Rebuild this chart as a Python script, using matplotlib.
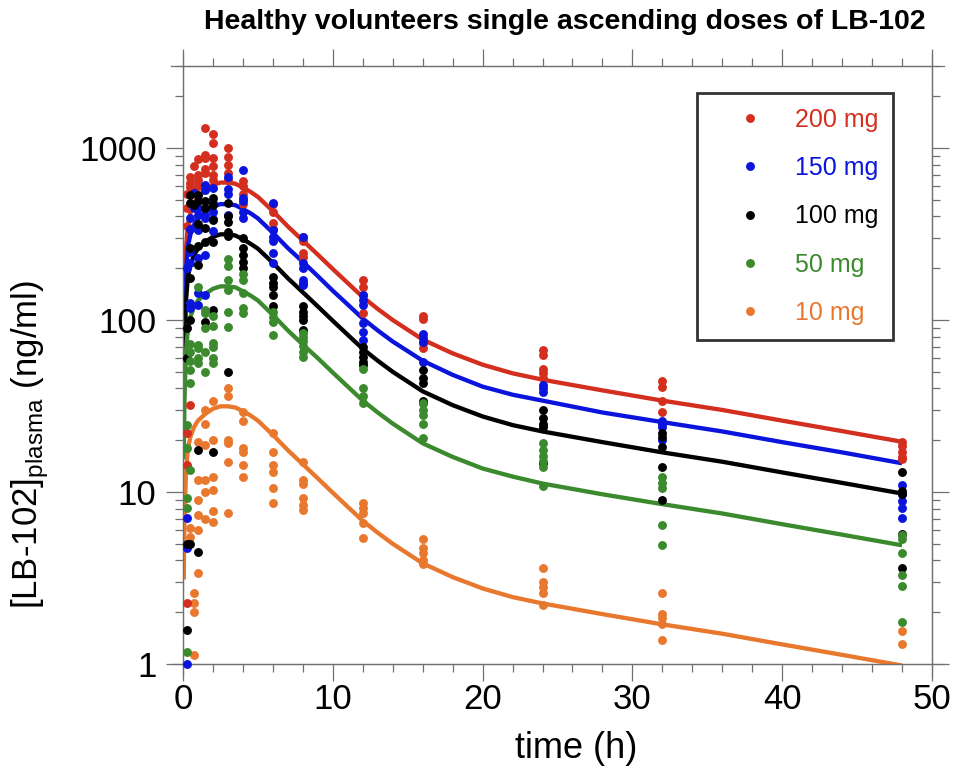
import matplotlib
matplotlib.use('Agg')
import matplotlib.pyplot as plt
from matplotlib.lines import Line2D
from matplotlib.ticker import FixedLocator, MultipleLocator, NullFormatter, FixedFormatter

plt.rcParams['font.family'] = ['Liberation Sans', 'DejaVu Sans']
plt.rcParams['mathtext.fontset'] = 'custom'
plt.rcParams['mathtext.rm'] = 'Liberation Sans'

# ---------------- data ----------------
DOSE_LABELS = ['200 mg', '150 mg', '100 mg', '50 mg', '10 mg']
COLORS = ['#d42e1f', '#0a14dc', '#000000', '#3b8a2e', '#e8782e']

SAMPLE_TIMES = [0.25, 0.5, 0.75, 1, 1.5, 2, 3, 4, 6, 8, 12, 16, 24, 32, 48]

OBS_200 = [
    [540, 450, 350, 22, 14.3, 2.25],
    [680, 630, 590, 32],
    [790, 560],
    [860, 700, 650, 600],
    [1300, 910, 875, 760, 715, 600],
    [1200, 1070, 880, 790, 700, 650],
    [1000, 890, 800, 720, 650],
    [640, 600, 540, 470],
    [470, 425, 365, 340],
    [305, 290, 245, 232],
    [170, 155, 140, 110],
    [106, 102, 74, 69],
    [67, 63, 52, 49, 46],
    [44, 41, 34, 29],
    [19.5, 18.5, 17, 16, 15.5],
]
OBS_150 = [
    [200, 60, 7.1, 4.7, 1.0],
    [390, 340, 250, 215, 125, 118],
    [550, 450],
    [450, 410, 335, 230, 143, 122],
    [610, 570, 410, 390, 240, 140],
    [585, 480, 425, 385, 330],
    [680, 575, 540, 410],
    [750, 510, 490, 425, 390],
    [480, 335, 303, 290, 245, 215],
    [305, 214, 200, 172, 165, 160],
    [140, 131, 122, 96, 85, 77],
    [83, 79, 75, 57],
    [42, 40, 38],
    [26, 25, 24, 20],
    [11, 9.7, 8.9, 8.1, 7.1],
]
OBS_100 = [
    [90, 60, 5.0, 1.58],
    [530, 480, 262, 175, 100, 5.0],
    [465],
    [530, 490, 360, 270, 210, 17.5, 4.5],
    [490, 450, 345, 283, 98],
    [510, 465, 380, 285, 115, 17],
    [480, 400, 370, 325, 310, 50],
    [300, 262, 240, 218, 200],
    [178, 165, 156, 140, 120],
    [120, 111, 106, 100, 88],
    [70, 65, 61, 57, 55],
    [51, 46, 43, 34, 33],
    [30, 27, 25, 24, 14.8],
    [22, 21, 18.2, 14, 9],
    [13, 10.2, 9.8, 5.7, 3.6],
]
OBS_50 = [
    [24.5, 18, 9.2, 8.1, 1.17],
    [73, 65, 58, 51, 43, 13.4],
    [],
    [155, 72, 69, 60, 56],
    [114, 110, 90, 65, 50],
    [105, 92, 74, 70, 60, 56],
    [225, 205, 170, 150, 111, 91],
    [185, 170, 143, 118, 110],
    [112, 104, 98, 82],
    [84, 80, 76, 71, 65, 61],
    [52, 40, 36, 33],
    [33, 30, 28, 25, 20.5],
    [19.3, 17.5, 16.3, 15.2, 14, 10.8],
    [12.2, 11.3, 10.5, 6.4, 4.9],
    [5.6, 5.3, 4.4, 3.3, 2.85, 1.75],
]
OBS_10 = [
    [],
    [6.2, 5.5],
    [2.6, 2.25, 2.0, 1.13],
    [19.5, 11.7, 9, 7.4, 6.0, 3.4],
    [30, 25, 18.8, 11.7, 10, 7],
    [34, 20, 12.2, 10.3, 7.8, 6.7],
    [40, 36, 20, 19.3, 15, 7.6],
    [29, 26, 18, 17, 14.3, 12.2],
    [22, 17, 14.4, 13, 10.6, 8.6],
    [15, 11.7, 11.2, 9.2, 8.4, 7.9],
    [8.6, 8.1, 7.6, 6.6, 5.4],
    [5.3, 4.7, 4.4, 4.0, 3.8],
    [3.6, 3.0, 2.8, 2.6, 2.2],
    [2.6, 1.95, 1.85, 1.7, 1.38],
    [1.55, 1.3],
]

FIT_TIMES = [0.05, 0.1, 0.2, 0.33, 0.5, 0.75, 1, 1.5, 2, 2.5, 3, 3.5, 4, 4.5, 5, 6, 7, 8,
             9, 10, 11, 12, 13, 14, 16, 18, 20, 22, 24, 28, 32, 36, 40, 44, 48]
FIT_200 = [62, 140, 260, 360, 420, 480, 520, 570, 610, 630, 630, 620, 590, 557, 520, 430, 350,
           290, 240, 198, 164, 136, 116, 100, 77, 64, 55, 49, 45, 39, 34, 30, 26, 22.6, 19.6]
FIT_150 = [46, 105, 195, 270, 315, 360, 390, 428, 458, 472, 472, 465, 442, 418, 390, 322, 262,
           218, 180, 148, 123, 102, 87, 75, 58, 48, 41, 36.8, 34, 29, 25.5, 22.5, 19.5, 17, 14.7]
FIT_100 = [31, 70, 130, 180, 210, 240, 260, 285, 305, 315, 315, 310, 295, 278, 260, 215, 175,
           145, 120, 99, 82, 68, 58, 50, 38.5, 32, 27.5, 24.5, 22.5, 19.5, 17, 15, 13, 11.3, 9.8]
FIT_50 = [15.5, 35, 65, 90, 105, 120, 130, 142, 152, 157, 157, 155, 147, 139, 130, 107, 87,
          72, 60, 49.5, 41, 34, 29, 25, 19.2, 16, 13.7, 12.3, 11.2, 9.7, 8.5, 7.5, 6.5, 5.65, 4.9]
FIT_10 = [3.1, 7, 13, 18, 21, 24, 26, 28.5, 30.5, 31.5, 31.5, 31, 29.5, 27.9, 26, 21.5, 17.5,
          14.5, 12, 9.9, 8.2, 6.8, 5.8, 5.0, 3.85, 3.2, 2.75, 2.45, 2.25, 1.95, 1.7, 1.5, 1.3,
          1.13, 0.98]

X_TICKS = [0, 10, 20, 30, 40, 50]
Y_TICKS = [1, 10, 100, 1000]
Y_TICK_LABELS = ['1', '10', '100', '1000']

# ---------------- figure ----------------
W, H = 957, 770
fig = plt.figure(figsize=(W / 100, H / 100), dpi=100)
L, R, T, B = 183, 932, 66, 664
ax = fig.add_axes([L / W, 1 - B / H, (R - L) / W, (B - T) / H])

obs_all = [OBS_200, OBS_150, OBS_100, OBS_50, OBS_10]
fit_all = [FIT_200, FIT_150, FIT_100, FIT_50, FIT_10]

for fit, c in zip(fit_all, COLORS):
    ax.plot(FIT_TIMES, fit, color=c, lw=3.1, solid_capstyle='butt',
            solid_joinstyle='round', zorder=2)

draw_order = [4, 0, 1, 2, 3]
for i in draw_order:
    xs, ys = [], []
    for t, vals in zip(SAMPLE_TIMES, obs_all[i]):
        xs += [t] * len(vals)
        ys += vals
    ax.plot(xs, ys, 'o', color=COLORS[i], ms=6.4, mec='none', zorder=3, clip_on=False)

ax.set_yscale('log')
ax.set_xlim(0, 50)
ax.set_ylim(1, 3000)

axis_col = '#707070'
for s in ax.spines.values():
    s.set_color(axis_col)
    s.set_linewidth(0.9)

ax.xaxis.set_major_locator(FixedLocator(X_TICKS))
ax.xaxis.set_minor_locator(MultipleLocator(2))
ax.yaxis.set_major_locator(FixedLocator(Y_TICKS))
ax.yaxis.set_major_formatter(FixedFormatter(Y_TICK_LABELS))
minor_y = [m * 10 ** e for e in range(0, 4) for m in range(2, 10) if m * 10 ** e <= 3000]
ax.yaxis.set_minor_locator(FixedLocator(minor_y))
ax.yaxis.set_minor_formatter(NullFormatter())

ax.tick_params(which='both', direction='out', top=True, right=True, color=axis_col,
               width=0.9, labelsize=25)
ax.tick_params(which='major', length=12)
ax.tick_params(which='minor', length=6)
ax.tick_params(axis='x', pad=1.5)
ax.tick_params(axis='y', pad=7)

# extend spines past corners (Kaleidagraph style)
ext = 12
dx = ext / (R - L)
dy = ext / (B - T)
for x0, x1, y0, y1 in [(-dx, 1 + dx, 0, 0), (-dx, 1 + dx, 1, 1),
                       (0, 0, -dy, 1 + dy), (1, 1, -dy, 1 + dy)]:
    ax.add_line(Line2D([x0, x1], [y0, y1], transform=ax.transAxes, color=axis_col,
                       lw=0.9, clip_on=False, zorder=1))

# legend
handles = [Line2D([], [], ls='none', marker='o', color=c, ms=6.4, mec='none') for c in COLORS]
leg = ax.legend(handles, DOSE_LABELS, loc='upper right',
                bbox_to_anchor=((893 - L) / (R - L), (B - 93) / (B - T)),
                borderaxespad=0, fontsize=18, labelcolor=COLORS, frameon=True,
                fancybox=False, edgecolor='black', handlelength=3.0, handletextpad=0.3,
                borderpad=0.6, labelspacing=0.97)
leg.get_frame().set_linewidth(2)

fig.text(565 / W, 1 - 22 / H, 'Healthy volunteers single ascending doses of LB-102',
         ha='center', va='center', fontsize=20.5, fontweight='bold')
fig.text(576 / W, 1 - 748 / H, 'time (h)', ha='center', va='center', fontsize=26)
fig.text(30 / W, 1 - 445 / H, r'[LB-102]$_{\mathregular{plasma}}$ (ng/ml)', ha='center',
         va='center', fontsize=25, rotation=90)

fig.savefig('out.png', dpi=100)
